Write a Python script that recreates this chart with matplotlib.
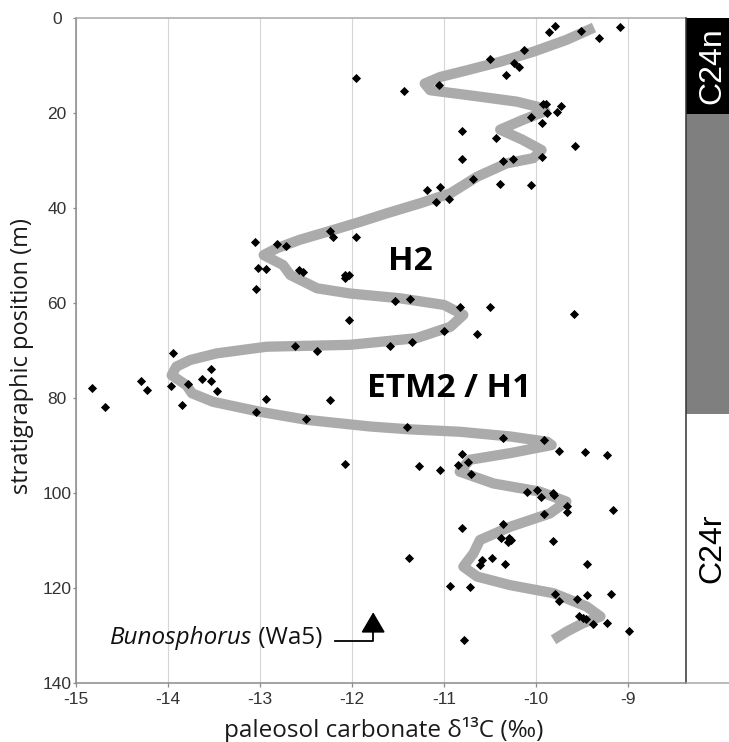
import matplotlib.pyplot as plt

plt.rcParams["font.family"] = ["Open Sans", "DejaVu Sans"]

# paleosol carbonate d13C samples (permil) and stratigraphic level (m)
sample_d13c = [
    -9.79, -9.86, -9.51, -9.09, -9.32, -10.13, -10.50, -10.24, -10.19, -10.33,
    -11.96, -11.43, -11.05, -9.92, -9.89, -9.73, -9.88, -9.77, -10.05, -9.93,
    -10.81, -10.43, -9.58, -10.80, -10.36, -10.25, -9.93, -10.69, -10.39, -10.05,
    -11.18, -11.04, -11.09, -10.95, -12.24, -12.21, -11.96, -13.05, -12.82, -12.72,
    -13.02, -12.93, -12.58, -12.53, -12.08, -12.03, -12.08, -13.04, -11.53, -11.37,
    -10.83, -10.50, -9.59, -12.03, -11.00, -10.64, -12.62, -12.38, -11.59, -11.35,
    -13.95, -13.53, -14.29, -14.23, -14.83, -14.68, -13.97, -13.78, -13.63, -13.53,
    -13.47, -13.85, -12.93, -12.24, -13.04, -12.50, -11.40, -10.36, -9.91, -9.75,
    -9.47, -9.23, -10.81, -11.27, -11.04, -10.85, -10.74, -10.71, -12.08, -10.10,
    -9.99, -9.95, -9.82, -9.80, -9.66, -9.66, -9.91, -9.16, -10.36, -10.80,
    -10.38, -10.29, -10.31, -10.27, -9.82, -11.38, -10.59, -10.61, -10.48, -10.34,
    -9.45, -10.93, -10.72, -9.79, -9.75, -9.55, -9.45, -9.19, -9.53, -9.49,
    -9.46, -9.38, -9.23, -8.99, -10.78,
]
sample_level = [
    1.6, 2.9, 2.7, 1.8, 4.3, 6.8, 8.6, 9.4, 10.4, 11.9,
    12.6, 15.3, 14.0, 18.0, 18.2, 18.6, 20.0, 19.8, 20.8, 22.0,
    23.8, 25.3, 26.9, 29.6, 30.2, 29.6, 29.2, 33.9, 34.9, 35.2,
    36.1, 35.6, 38.7, 38.2, 44.8, 46.0, 46.2, 47.1, 47.5, 48.0,
    52.7, 52.9, 53.1, 53.4, 54.2, 54.2, 54.8, 57.1, 59.6, 59.2,
    60.8, 60.8, 62.4, 63.5, 65.8, 66.6, 69.1, 70.0, 69.1, 68.2,
    70.6, 73.9, 76.4, 78.4, 77.8, 81.8, 77.5, 77.1, 75.9, 76.4,
    78.5, 81.5, 80.3, 80.4, 82.9, 84.5, 86.1, 88.4, 88.8, 91.2,
    91.4, 91.9, 91.7, 94.3, 95.2, 94.2, 93.5, 95.9, 93.8, 99.8,
    99.4, 100.8, 99.9, 100.4, 102.7, 104.1, 104.5, 103.6, 106.5, 107.4,
    109.5, 109.4, 110.3, 109.8, 110.1, 113.7, 114.0, 115.2, 113.7, 115.0,
    115.0, 119.5, 119.8, 121.2, 122.7, 122.4, 121.5, 121.3, 125.8, 126.4,
    126.5, 127.6, 127.3, 129.1, 130.9,
]

# smoothed trend
trend_d13c = [
    -9.37, -9.67, -10.03, -10.39, -10.75, -11.04, -11.21, -11.15, -10.75, -10.21,
    -9.98, -9.90, -10.15, -10.39, -10.15, -9.94, -10.03, -10.32, -10.64, -10.93,
    -11.26, -11.62, -11.91, -12.20, -12.57, -12.82, -12.96, -12.75, -12.67, -12.38,
    -12.02, -11.48, -11.00, -10.79, -10.93, -11.30, -12.02, -12.93, -13.47, -13.76,
    -13.91, -13.96, -13.80, -13.74, -13.51, -13.00, -12.49, -11.80, -11.37, -10.83,
    -10.28, -9.88, -9.83, -10.28, -10.72, -10.83, -10.46, -9.96, -9.67, -9.85,
    -10.28, -10.61, -10.68, -10.79, -10.64, -10.28, -9.81, -9.45, -9.30, -9.49,
    -9.67, -9.81,
]
trend_level = [
    2.0, 4.6, 7.1, 9.2, 11.0, 12.4, 13.8, 15.2, 16.2, 17.6,
    18.7, 19.6, 21.5, 23.5, 25.6, 27.8, 29.5, 30.6, 33.4, 36.9,
    39.0, 41.1, 42.9, 44.6, 46.7, 48.5, 49.9, 52.0, 54.1, 56.9,
    58.0, 59.0, 60.4, 62.5, 65.0, 67.4, 68.8, 69.2, 70.6, 72.0,
    73.4, 75.2, 77.3, 79.0, 80.8, 82.9, 84.6, 86.0, 86.6, 87.1,
    88.1, 89.2, 89.9, 91.6, 93.0, 95.5, 98.0, 99.7, 101.8, 104.3,
    107.1, 109.9, 112.7, 115.5, 117.6, 119.4, 121.1, 123.9, 126.0, 127.4,
    129.2, 130.9,
]

# magnetic polarity chrons
chron_names = ["C24n", "", "C24r"]
chron_top = [0, 20.2, 83.4]
chron_base = [20.2, 83.4, 140]
chron_colors = ["black", "#7f7f7f", "white"]

events = [("H2", -11.37, 51.2), ("ETM2 / H1", -10.95, 78.1)]
wa5_level = 131.2
wa5_x = -11.77

x_ticks = [-15, -14, -13, -12, -11, -10, -9]
y_ticks = [0, 20, 40, 60, 80, 100, 120, 140]

fig = plt.figure(figsize=(7.29, 7.42), dpi=100)
ax = fig.add_axes([0.10425, 0.0795, 0.8364, 0.8962])
bar = fig.add_axes([0.9406, 0.0795, 0.0594, 0.8962])

ax.plot(trend_d13c, trend_level, color="#ababab", lw=7.4,
        solid_joinstyle="round", solid_capstyle="butt", zorder=2)
ax.plot(sample_d13c, sample_level, ls="none", marker="D", ms=3.7,
        mew=0.6, color="black", zorder=3)

ax.set_xlim(-15, -8.373)
ax.set_ylim(140, 0)
ax.set_xticks(x_ticks)
ax.set_xticklabels([str(t) for t in x_ticks])
ax.set_yticks(y_ticks)
ax.grid(axis="x", color="#d6d6d6", lw=0.8, zorder=0)
ax.tick_params(axis="both", direction="out", color="#8a8a8a", width=0.9,
               labelsize=12.5, labelcolor="#333333")
ax.tick_params(axis="x", length=3, pad=3.2)
ax.tick_params(axis="y", length=2.5, pad=11.2)
for lab in ax.get_xticklabels() + ax.get_yticklabels():
    lab.set_family(["Liberation Sans"])
for lab in ax.get_yticklabels():
    lab.set_ha("center")
for side in ["left", "bottom"]:
    ax.spines[side].set_color("#8a8a8a")
    ax.spines[side].set_linewidth(1.1)
ax.spines["top"].set_color("#a8a8a8")
ax.spines["top"].set_linewidth(1.1)
ax.spines["right"].set_visible(False)

for name, x, y in events:
    ax.text(x, y, name, ha="center", va="center", fontsize=24,
            fontweight="bold", color="black")

t1 = ax.text(-14.63, 130.6, "Bunosphorus", style="italic", fontsize=17.5,
             ha="left", va="center", color="#111111")
ax.annotate(" (Wa5)", xy=(1, 0), xycoords=t1, ha="left", va="bottom",
            fontsize=17.5, color="#111111")
ax.plot([wa5_x - 0.41, wa5_x, wa5_x], [wa5_level, wa5_level, wa5_level - 2.5],
        color="black", lw=1.3)
ax.annotate("", xy=(wa5_x, wa5_level - 6.1), xytext=(wa5_x, wa5_level - 2.0),
            arrowprops=dict(arrowstyle="-|>,head_length=0.85,head_width=0.5",
                            mutation_scale=15, color="black", lw=1.3,
                            shrinkA=0, shrinkB=0))

for name, top, base, col in zip(chron_names, chron_top, chron_base, chron_colors):
    bar.bar(0.5, base - top, bottom=top, width=1, color=col, linewidth=0)
    if name:
        bar.text(0.62, (top + base) / 2, name, rotation=90, ha="center",
                 va="center", fontsize=23, family=["Liberation Sans"],
                 color="white" if col == "black" else "black")
bar.set_xlim(0, 1)
bar.set_ylim(140, 0)
bar.set_xticks([])
bar.set_yticks([])
bar.spines["top"].set_visible(False)
bar.spines["right"].set_visible(False)
bar.spines["left"].set_color("#333333")
bar.spines["left"].set_linewidth(1.1)
bar.spines["bottom"].set_color("#a8a8a8")
bar.spines["bottom"].set_linewidth(1.1)

fig.text(22 / 729, 1 - 356 / 742, "stratigraphic position (m)", rotation=90,
         ha="center", va="center", fontsize=17, color="#1a1a1a")
fig.text(384 / 729, 5.3 / 742, "paleosol carbonate δ¹³C (‰)", ha="center",
         va="baseline", fontsize=17.5, color="#1a1a1a")

fig.savefig("out.png", dpi=100)
